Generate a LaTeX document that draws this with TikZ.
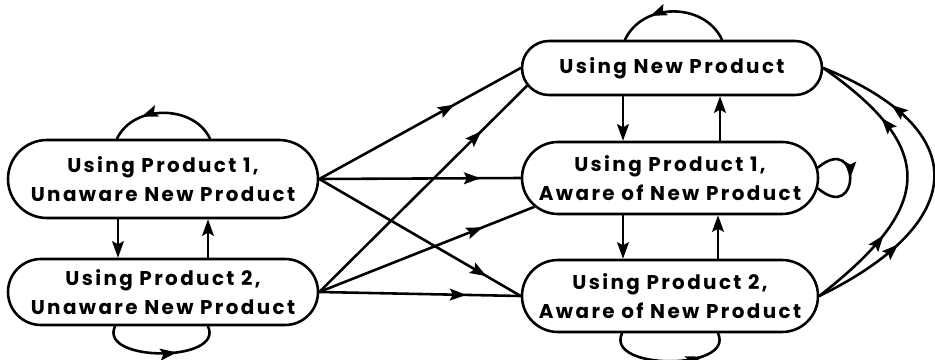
\documentclass[tikz,border=0pt]{standalone}
\usepackage{fontspec}
\usepackage{tikz}
\usetikzlibrary{arrows.meta,shapes.misc,calc,decorations.markings}
\newfontfamily\statefont{Poppins}[LetterSpace=12]

\begin{document}
\begin{tikzpicture}[x=0.03cm,y=0.03cm,>={Stealth[length=14pt,width=10pt,inset=2.5pt]},line width=2.2pt,line cap=round,
  state/.style={draw,rounded rectangle,inner sep=0pt,align=center,font=\statefont\bfseries\fontsize{17}{25}\selectfont},
  tipat/.style={postaction={decorate},decoration={markings,mark=at position #1 with {\arrow{>}}}},
  twotips/.style 2 args={postaction={decorate},decoration={markings,mark=at position #1 with {\arrow{>}},mark=at position #2 with {\arrow{>}}}}]
\useasboundingbox (0,0) rectangle (935,359);
\node[state,minimum width=9.3cm,minimum height=2.34cm] (u1) at (163,180) {Using Product 1,\\Unaware New Product};
\node[state,minimum width=9.3cm,minimum height=1.98cm] (u2) at (163,67) {Using Product 2,\\Unaware New Product};
\node[state,minimum width=9cm,minimum height=1.62cm] (nw) at (672,291) {Using New Product};
\node[state,minimum width=8.88cm,minimum height=2.16cm] (a1) at (670,181) {Using Product 1,\\Aware of New Product};
\node[state,minimum width=8.88cm,minimum height=2.16cm] (a2) at (670,63) {Using Product 2,\\Aware of New Product};
\draw[->] ($(u1.south)+(-45,0)$) -- ($(u2.north)+(-45,0)$);
\draw[->] ($(u2.north)+(45,0)$) -- ($(u1.south)+(45,0)$);
\draw[->] ($(nw.south)+(-49,0)$) -- ($(a1.north)+(-47,0)$);
\draw[->] ($(a1.north)+(50,0)$) -- ($(nw.south)+(48,0)$);
\draw[->] ($(a1.south)+(-47,0)$) -- ($(a2.north)+(-47,0)$);
\draw[->] ($(a2.north)+(48,0)$) -- ($(a1.south)+(48,0)$);
\draw[tipat=0.67] (u1.east) -- (nw.west);
\draw[tipat=0.8] (u1.east) -- (a1.west);
\draw[tipat=0.83] (u1.east) -- (a2.west);
\draw[tipat=0.78] (u2.east) -- (nw.187);
\draw[tipat=0.76] (u2.east) -- (a1.192);
\draw[tipat=0.73] (u2.east) -- (a2.west);
\draw[tipat=0.7] ($(u1.north)+(47,0)$) to[out=115,in=65,looseness=1.05] ($(u1.north)+(-46,0)$);
\draw[tipat=0.7] ($(nw.north)+(50,0)$) to[out=115,in=65,looseness=1.1] ($(nw.north)+(-47,0)$);
\draw[tipat=0.62] ($(u2.south)+(-48,0)$) to[out=-115,in=-65,looseness=1.1] ($(u2.south)+(45,0)$);
\draw[tipat=0.75] ($(a2.south)+(-48,0)$) to[out=-115,in=-65,looseness=1.1] ($(a2.south)+(48,0)$);
\draw[tipat=0.5] (a1.4) to[out=40,in=-40,looseness=7] (a1.-4);
\draw[twotips={0.3}{0.74}] (a2.east) to[out=38,in=-35,looseness=1.6] (nw.east);
\draw[twotips={0.28}{0.77}] (a2.east) to[out=26,in=-22,looseness=1.85] (nw.east);
\end{tikzpicture}
\end{document}
